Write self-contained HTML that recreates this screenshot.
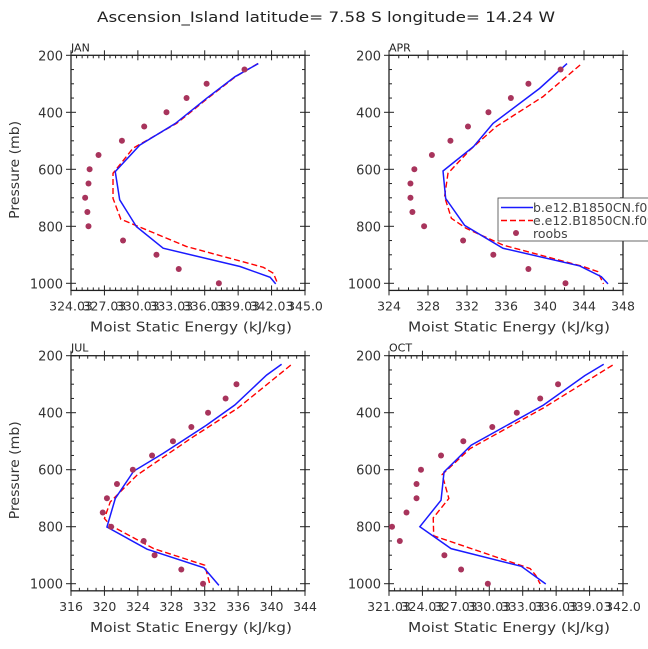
<!DOCTYPE html>
<html><head><meta charset="utf-8"><style>
body{margin:0;background:#fff;}
svg{display:block;font-family:"DejaVu Sans","Liberation Sans",sans-serif;}
</style></head><body>
<svg id="chart" width="648" height="649" viewBox="0 0 648 649" xmlns="http://www.w3.org/2000/svg">
<text x="326" y="22" font-size="14" text-anchor="middle" fill="#222" textLength="458" lengthAdjust="spacingAndGlyphs">Ascension_Island  latitude= 7.58 S longitude= 14.24 W</text>
</svg>
<script>
// ---- data ----
const panelNames = ["JAN","APR","JUL","OCT"];
const roobsP16 = [250,300,350,400,450,500,550,600,650,700,750,800,850,900,950,1000];
const roobsP15 = [300,350,400,450,500,550,600,650,700,750,800,850,900,950,1000];
const janRoobs = [339.6,336.2,334.4,332.6,330.6,328.6,326.5,325.7,325.6,325.3,325.5,325.6,328.7,331.7,333.7,337.3];
const aprRoobs = [341.6,338.3,336.5,334.2,332.1,330.3,328.4,326.6,326.2,326.2,326.4,327.6,331.6,334.7,338.3,342.1];
const julRoobs = [335.8,334.5,332.4,330.4,328.2,325.7,323.4,321.5,320.3,319.8,320.8,324.7,326.0,329.2,331.8];
const octRoobs = [336.2,334.6,332.5,330.3,327.7,325.7,323.9,323.5,323.5,322.6,321.3,322.0,326.0,327.5,329.9];
const janBlueP = [229,275,351,439,515,608,707,801,877,941,979,1002];
const janBlue  = [340.84,338.75,336.2,333.4,330.2,328.0,328.4,329.9,332.3,339.2,341.9,342.4];
const janRedP  = [229,275,351,439,526,614,702,775,871,944,965,994];
const janRed   = [340.8,338.8,336.3,333.5,329.6,327.8,327.8,328.5,334.4,341.3,342.2,342.5];
const aprBlueP = [229,316,439,520,606,702,797,877,939,977,1002];
const aprBlue  = [342.26,339.45,334.67,332.68,329.54,329.81,331.76,335.69,343.56,345.78,346.46];
const aprRedP  = [234,345,450,532,614,696,772,807,866,941,959,1002];
const aprRed   = [343.6,339.8,335.0,332.3,330.05,329.7,330.4,331.9,335.7,343.9,345.4,346.0];
const julBlueP = [230,268,373,444,543,605,701,801,879,944,1006];
const julBlue  = [341.2,339.4,335.6,332.2,327.0,323.5,321.3,320.3,325.1,331.9,333.7];
const julRedP  = [233,383,485,619,713,771,795,877,935,1000];
const julRed   = [342.3,336.0,330.6,323.9,320.7,320.0,320.7,325.9,332.0,332.6];
const octBlueP = [230,270,373,514,608,707,800,877,939,1001];
const octBlue  = [340.3,338.6,334.9,328.4,325.97,325.7,323.8,326.6,332.9,335.1];
const octRedP  = [233,383,526,617,701,769,832,947,971,1001];
const octRed   = [341.1,334.9,328.3,325.8,326.4,325.0,325.04,333.7,334.2,334.6];
const janTicks = ["324.03","327.03","330.03","333.03","336.03","339.03","342.03","345.0"];
const aprTicks = ["324","328","332","336","340","344","348"];
const julTicks = ["316","320","324","328","332","336","340","344"];
const octTicks = ["321.03","324.03","327.03","330.03","333.03","336.03","339.03","342.0"];
const yTicks = [200,400,600,800,1000];
const legendLabels = ["b.e12.B1850CN.f09_g16.005","e.e12.B1850CN.f09_g16.005","roobs"];

const svg = document.getElementById('chart');
const NS = "http://www.w3.org/2000/svg";
function mk(tag, attrs, parent){const e=document.createElementNS(NS,tag);for(const k in attrs)e.setAttribute(k,attrs[k]);(parent||svg).appendChild(e);return e;}

const panels = [
 {name:"jan",x0:71,y0:55.3,xmin:324.03,xmax:345.03,xstep:3,minor:0.5,ticks:janTicks,roobs:janRoobs,rp:roobsP16,bP:janBlueP,b:janBlue,rP:janRedP,r:janRed,ytitle:true},
 {name:"apr",x0:389,y0:55.3,xmin:324,xmax:348,xstep:4,minor:1,ticks:aprTicks,roobs:aprRoobs,rp:roobsP16,bP:aprBlueP,b:aprBlue,rP:aprRedP,r:aprRed,ytitle:false},
 {name:"jul",x0:71,y0:355.7,xmin:316,xmax:344,xstep:4,minor:1,ticks:julTicks,roobs:julRoobs,rp:roobsP15,bP:julBlueP,b:julBlue,rP:julRedP,r:julRed,ytitle:true},
 {name:"oct",x0:389,y0:355.7,xmin:321.03,xmax:342.03,xstep:3,minor:0.5,ticks:octTicks,roobs:octRoobs,rp:roobsP15,bP:octBlueP,b:octBlue,rP:octRedP,r:octRed,ytitle:false}
];
const W=234, PPM=228/800, H=825*PPM;

panels.forEach((p,i)=>{
  const g=mk('g',{});
  
  
  const xs=v=>p.x0+(v-p.xmin)/(p.xmax-p.xmin)*W;
  const ys=v=>p.y0+(v-200)*PPM;
  const lbl=mk('text',{x:p.x0,y:p.y0-4,'font-size':11,fill:'#222'},g);
  lbl.textContent=panelNames[i];
  
  
  for(let v=200;v<=1025;v+=50){
    const maj=v%200===0, y=ys(v);
    mk('line',{x1:p.x0-(maj?5:0),x2:p.x0+(maj?5:3),y1:y,y2:y,stroke:'#222','stroke-width':1},g);
    mk('line',{x1:p.x0+W+(maj?5:0),x2:p.x0+W-(maj?5:3),y1:y,y2:y,stroke:'#222','stroke-width':1},g);
  }
  yTicks.forEach(v=>{
    const t=mk('text',{x:p.x0-8,y:ys(v)+5,'font-size':13,'text-anchor':'end',fill:'#333'},g);
    t.textContent=v;
    
    
  });
  const by=p.y0+H;
  for(let v=p.xmin;v<=p.xmax+1e-6;v+=p.minor){
    const k=Math.round((v-p.xmin)/p.minor), maj=(k*p.minor)%p.xstep<1e-6;
    const x=xs(v);
    mk('line',{x1:x,x2:x,y1:by+(maj?5:0),y2:by-(maj?5:3),stroke:'#222','stroke-width':1},g);
    mk('line',{x1:x,x2:x,y1:p.y0-(maj?5:0),y2:p.y0+(maj?5:3),stroke:'#222','stroke-width':1},g);
  }
  p.ticks.forEach((s,k)=>{
    const t=mk('text',{x:xs(p.xmin+k*p.xstep),y:by+20,'font-size':12.5,'text-anchor':'middle',fill:'#333'},g);
    t.textContent=s;
    
    
  });
  mk('rect',{x:p.x0,y:p.y0,width:W,height:H,fill:'none',stroke:'#222','stroke-width':1.3},g);
  const xt=mk('text',{x:p.x0+W/2+3,y:by+41,'font-size':13,'text-anchor':'middle',fill:'#333',textLength:202,lengthAdjust:'spacingAndGlyphs'},g);
  xt.textContent="Moist Static Energy (kJ/kg)";
  
  
  if(p.ytitle){
    const cy=p.y0+H/2-3;
    const yt=mk('text',{x:19,y:cy,'font-size':13,'text-anchor':'middle',fill:'#333',transform:`rotate(-90 19 ${cy})`,textLength:98,lengthAdjust:'spacingAndGlyphs'},g);
    yt.textContent="Pressure (mb)";
    
    
  }
  const rl=mk('polyline',{points:p.r.map((v,k)=>xs(v)+','+ys(p.rP[k])).join(' '),fill:'none',stroke:'#f00','stroke-width':1.4,'stroke-dasharray':'6,3'},g);
  
  
  const bl=mk('polyline',{points:p.b.map((v,k)=>xs(v)+','+ys(p.bP[k])).join(' '),fill:'none',stroke:'#1a1aff','stroke-width':1.5},g);
  
  
  p.roobs.forEach((v,k)=>{
    const c=mk('circle',{cx:xs(v),cy:ys(p.rp[k]),r:3,fill:'#a8345c'},g);
    
    
  });
});

const lg=mk('g',{});


mk('rect',{x:498,y:198,width:160,height:43,fill:'#fff',stroke:'#444','stroke-width':0.8},lg);
mk('line',{x1:501,x2:533,y1:207.5,y2:207.5,stroke:'#1a1aff','stroke-width':1.5},lg);
mk('line',{x1:501,x2:533,y1:220.5,y2:220.5,stroke:'#f00','stroke-width':1.4,'stroke-dasharray':'6,3'},lg);
mk('circle',{cx:516,cy:233,r:3,fill:'#a8345c'},lg);
legendLabels.forEach((s,k)=>{
  const t=mk('text',{x:533,y:212+k*13,'font-size':12.5,fill:'#444'},lg);
  t.textContent=s;
  
  
});
</script>
</body></html>
